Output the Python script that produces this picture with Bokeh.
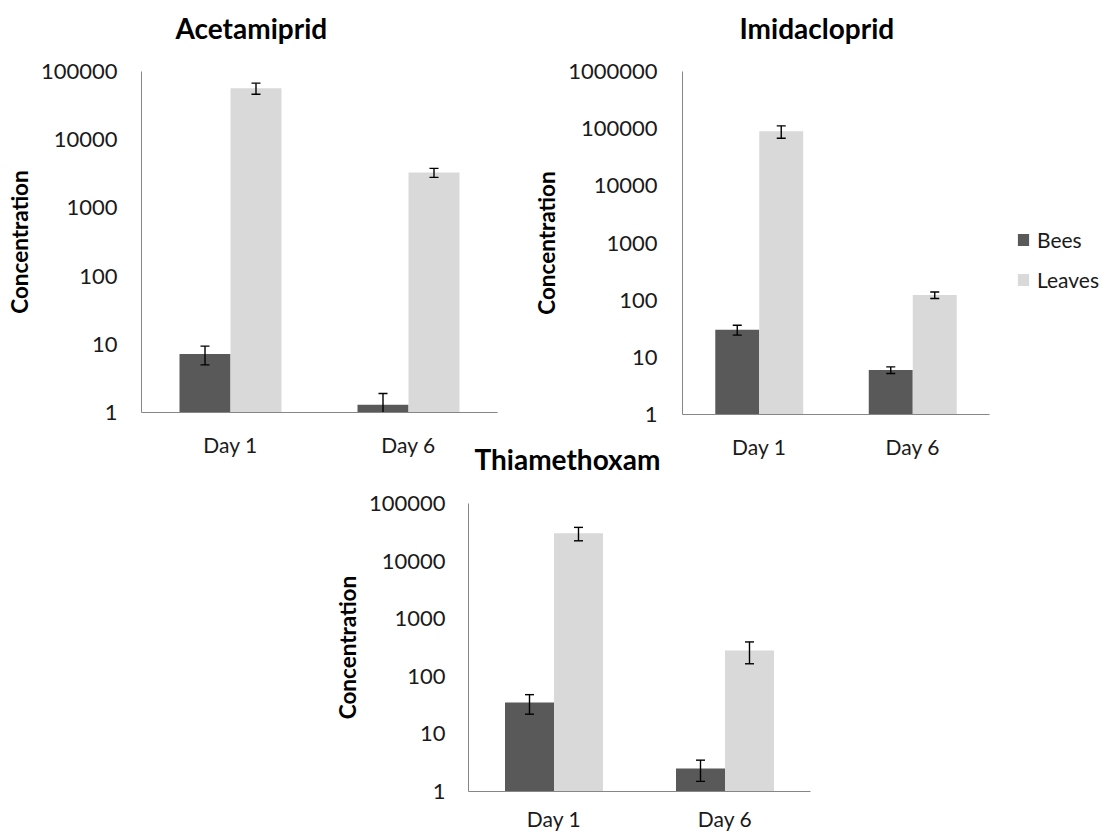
from bokeh.plotting import figure
from bokeh.models import (ColumnDataSource, FactorRange, FixedTicker,
                          NumeralTickFormatter, Legend, LegendItem)
from bokeh.transform import dodge
from bokeh.layouts import column, row
from bokeh.embed import file_html
from bokeh.resources import INLINE

# categories and series
days = ["Day 1", "Day 6"]
series = ["Bees", "Leaves"]

# Acetamiprid
aceta_bees = [7.2, 1.3]
aceta_bees_err = [2.2, 0.6]
aceta_leaves = [57000, 3300]
aceta_leaves_err = [10500, 500]

# Imidacloprid
imida_bees = [30.5, 6.0]
imida_bees_err = [6.0, 0.8]
imida_leaves = [90000, 123]
imida_leaves_err = [22000, 16]

# Thiamethoxam
thiam_bees = [35, 2.5]
thiam_bees_err = [13, 1.0]
thiam_leaves = [30500, 280]
thiam_leaves_err = [8000, 115]

y_ticks_5 = [1, 10, 100, 1000, 10000, 100000]
y_ticks_6 = [1, 10, 100, 1000, 10000, 100000, 1000000]

BEES_COLOR = "#595959"
LEAVES_COLOR = "#d9d9d9"
AXIS_COLOR = "#868686"
TEXT_COLOR = "#1a1a1a"
FONT = "Lato"

BAR_W = 0.2865
OFF = BAR_W / 2


def make_chart(title, bees, bees_err, leaves, leaves_err, ticks,
               frame_w, frame_h, border_left, border_right, border_top,
               border_bottom, title_offset, title_standoff, x_standoff,
               y_standoff):
    src = ColumnDataSource(dict(
        day=days,
        bees=bees,
        bees_lo=[v - e for v, e in zip(bees, bees_err)],
        bees_hi=[v + e for v, e in zip(bees, bees_err)],
        leaves=leaves,
        leaves_lo=[v - e for v, e in zip(leaves, leaves_err)],
        leaves_hi=[v + e for v, e in zip(leaves, leaves_err)],
    ))
    p = figure(x_range=FactorRange(*days), y_range=(ticks[0], ticks[-1]),
               y_axis_type="log", frame_width=frame_w, frame_height=frame_h,
               min_border_left=border_left, min_border_right=border_right,
               min_border_top=border_top, min_border_bottom=border_bottom,
               output_backend="svg", toolbar_location=None)
    p.x_range.range_padding = 0

    rb = p.vbar(x=dodge("day", -OFF, range=p.x_range), top="bees", bottom=1,
                width=BAR_W, source=src, fill_color=BEES_COLOR, line_color=None)
    rl = p.vbar(x=dodge("day", OFF, range=p.x_range), top="leaves", bottom=1,
                width=BAR_W, source=src, fill_color=LEAVES_COLOR, line_color=None)

    # error bars: stems plus horizontal caps
    for off, key in ((-OFF, "bees"), (OFF, "leaves")):
        xs = dodge("day", off, range=p.x_range)
        p.segment(x0=xs, y0=key + "_lo", x1=xs, y1=key + "_hi", source=src,
                  line_color="black", line_width=1.4)
        for end in ("_lo", "_hi"):
            p.scatter(x=xs, y=key + end, source=src, marker="dash", size=9,
                      line_color="black", line_width=1.4)

    p.title.text = title
    p.title.text_font = FONT
    p.title.text_font_style = "bold"
    p.title.text_font_size = "28px"
    p.title.text_color = "black"
    p.title.align = "left"
    p.title.offset = title_offset
    p.title.standoff = title_standoff

    p.outline_line_color = None
    p.xgrid.grid_line_color = None
    p.ygrid.grid_line_color = None
    p.background_fill_alpha = 0
    p.border_fill_alpha = 0

    xa = p.xaxis[0]
    xa.axis_line_color = AXIS_COLOR
    xa.major_tick_line_color = None
    xa.minor_tick_line_color = None
    xa.major_tick_out = 0
    xa.major_tick_in = 0
    xa.major_label_standoff = x_standoff
    xa.major_label_text_font = FONT
    xa.major_label_text_font_size = "21px"
    xa.major_label_text_color = TEXT_COLOR

    ya = p.yaxis[0]
    ya.ticker = FixedTicker(ticks=ticks)
    ya.formatter = NumeralTickFormatter(format="0")
    ya.axis_line_color = AXIS_COLOR
    ya.major_tick_line_color = None
    ya.minor_tick_line_color = None
    ya.major_tick_out = 0
    ya.major_tick_in = 0
    ya.major_label_standoff = y_standoff
    ya.major_label_text_font = FONT
    ya.major_label_text_font_size = "22px"
    ya.major_label_text_color = TEXT_COLOR
    ya.axis_label = "Concentration"
    ya.axis_label_text_font = FONT
    ya.axis_label_text_font_style = "bold"
    ya.axis_label_text_font_size = "22.5px"
    ya.axis_label_text_color = "black"
    ya.axis_label_standoff = 5
    return p, rb, rl


p1, _, _ = make_chart("Acetamiprid", aceta_bees, aceta_bees_err, aceta_leaves,
                      aceta_leaves_err, y_ticks_5, 356, 341, 141, 33, 92, 50,
                      34, 54, 19, 24)
p2, b2, l2 = make_chart("Imidacloprid", imida_bees, imida_bees_err, imida_leaves,
                        imida_leaves_err, y_ticks_6, 307, 343, 152, 116, 92, 48,
                        57, 54, 19, 25)
p3, _, _ = make_chart("Thiamethoxam", thiam_bees, thiam_bees_err, thiam_leaves,
                      thiam_leaves_err, y_ticks_5, 342, 288, 148, 30, 93, 41,
                      6, 55, 14, 23)
p3.margin = (-52, 0, 0, 320)

legend = Legend(items=[LegendItem(label=series[0], renderers=[b2]),
                       LegendItem(label=series[1], renderers=[l2])],
                location=(27, 122), orientation="vertical",
                glyph_width=14, glyph_height=15, label_height=26,
                label_standoff=7, spacing=14, padding=0, margin=0,
                border_line_color=None, background_fill_alpha=0,
                label_text_font=FONT, label_text_font_size="21px",
                label_text_color=TEXT_COLOR)
p2.add_layout(legend, "right")

layout = column(row(p1, p2, margin=(-21, 0, 0, 0)), p3)

with open("out.html", "w") as f:
    f.write(file_html(layout, INLINE))
